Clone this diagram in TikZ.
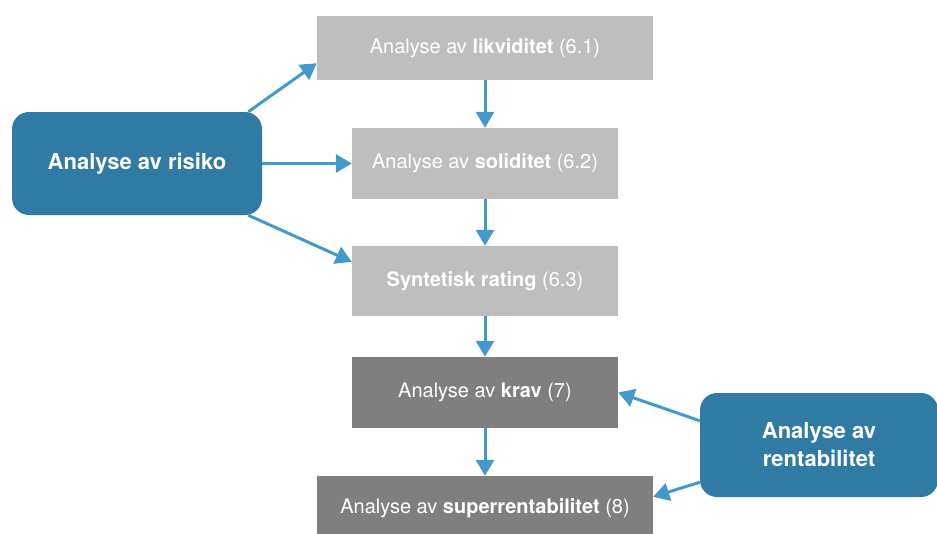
\documentclass[tikz,border=0pt]{standalone}
\usepackage{fontspec}
\setmainfont{TeX Gyre Heros}
\usetikzlibrary{arrows.meta}
\definecolor{lightbox}{HTML}{BEBEBE}
\definecolor{darkbox}{HTML}{7F7F7F}
\definecolor{bluebox}{HTML}{307BA4}
\definecolor{arrowblue}{HTML}{4398CC}
\tikzset{
  stage/.style={fill=#1, draw=none, text=white, inner sep=0pt, align=center,
    font=\fontsize{20}{24}\selectfont},
  group/.style={fill=bluebox, draw=none, rounded corners=17pt, text=white,
    inner sep=0pt, align=center, font=\fontsize{22}{28}\selectfont\bfseries},
  flow/.style={draw=arrowblue, line width=3pt,
    -{Triangle[length=16pt,width=18pt]}},
}
\begin{document}
\begin{tikzpicture}[x=1pt,y=-1pt]
  \useasboundingbox (0,0) rectangle (937,533);
  \clip (0,0) rectangle (937,533);

  % chain of analysis stages
  \node[stage=lightbox, minimum width=336pt, minimum height=64pt] (liq) at (485,48)
    {Analyse av \textbf{likviditet} (6.1)};
  \node[stage=lightbox, minimum width=266pt, minimum height=71pt] (sol) at (485,163.5)
    {Analyse av \textbf{soliditet} (6.2)};
  \node[stage=lightbox, minimum width=266pt, minimum height=70pt] (rat) at (485,281)
    {\textbf{Syntetisk rating} (6.3)};
  \node[stage=darkbox, minimum width=266pt, minimum height=71pt] (krav) at (485,392.5)
    {Analyse av \textbf{krav} (7)};
  \node[stage=darkbox, minimum width=336pt, minimum height=64pt] (sup) at (485,508)
    {Analyse av \textbf{superrentabilitet} (8)};

  % grouping boxes
  \node[group, minimum width=250pt, minimum height=103pt] (risk) at (137,163.5)
    {Analyse av risiko};
  \node[group, minimum width=238pt, minimum height=104pt] (rent) at (819,445)
    {Analyse av\\rentabilitet};

  % vertical flow
  \draw[flow] (liq.south) -- (sol.north);
  \draw[flow] (sol.south) -- (rat.north);
  \draw[flow] (rat.south) -- (krav.north);
  \draw[flow] (krav.south) -- (sup.north);

  % risk feeds the first three stages
  \draw[flow] ([xshift=-14pt]risk.north east) -- ([yshift=17pt]liq.south west);
  \draw[flow] (risk.east) -- (sol.west);
  \draw[flow] ([xshift=-14pt]risk.south east) -- ([yshift=-16pt]rat.north west);

  % profitability feeds the last two stages
  \draw[flow] ([yshift=-28pt]rent.north west) -- (krav.east);
  \draw[flow] ([yshift=15pt]rent.south west) -- ([yshift=-21pt]sup.north east);
\end{tikzpicture}
\end{document}
